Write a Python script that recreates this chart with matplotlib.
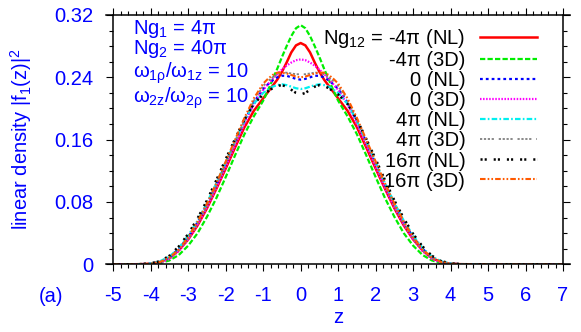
import matplotlib
matplotlib.use("Agg")
import matplotlib.pyplot as plt
from matplotlib.ticker import MultipleLocator

plt.rcParams['font.family'] = ['Liberation Sans', 'DejaVu Sans']
plt.rcParams['mathtext.fontset'] = 'custom'
plt.rcParams['mathtext.rm'] = 'Liberation Sans'
plt.rcParams['mathtext.it'] = 'Liberation Sans'
plt.rcParams['mathtext.sf'] = 'Liberation Sans'
plt.rcParams['axes.unicode_minus'] = False
plt.rcParams['lines.scale_dashes'] = False

# ---------------- data ----------------
z = [-5, -4.5, -4.25, -4, -3.75, -3.5, -3.25, -3, -2.75, -2.5, -2.25, -2, -1.75, -1.5, -1.25, -1,
     -0.875, -0.75, -0.625, -0.5, -0.375, -0.25, -0.125, 0, 0.125, 0.25, 0.375, 0.5, 0.625, 0.75, 0.875,
     1, 1.25, 1.5, 1.75, 2, 2.25, 2.5, 2.75, 3, 3.25, 3.5, 3.75, 4, 4.25, 4.5, 7]

nl_m4pi = [0, 0, 0.0002, 0.0008, 0.003, 0.008, 0.018, 0.032, 0.050, 0.072, 0.097, 0.123, 0.150, 0.176, 0.197, 0.213,
           0.221, 0.229, 0.237, 0.247, 0.259, 0.272, 0.281, 0.284, 0.281, 0.272, 0.259, 0.247, 0.237, 0.229, 0.221,
           0.213, 0.197, 0.176, 0.150, 0.123, 0.097, 0.072, 0.050, 0.032, 0.018, 0.008, 0.003, 0.0008, 0.0002, 0, 0]
td_m4pi = [0, 0, 0.0001, 0.0003, 0.0015, 0.005, 0.012, 0.024, 0.040, 0.061, 0.085, 0.112, 0.140, 0.167, 0.190, 0.210,
           0.223, 0.237, 0.251, 0.266, 0.280, 0.293, 0.303, 0.307, 0.303, 0.293, 0.280, 0.266, 0.251, 0.237, 0.223,
           0.210, 0.190, 0.167, 0.140, 0.112, 0.085, 0.061, 0.040, 0.024, 0.012, 0.005, 0.0015, 0.0003, 0.0001, 0, 0]
nl_0 = [0, 0, 0.0002, 0.0008, 0.003, 0.009, 0.020, 0.035, 0.054, 0.077, 0.102, 0.129, 0.157, 0.184, 0.208, 0.225,
        0.231, 0.236, 0.240, 0.242, 0.242, 0.240, 0.238, 0.237, 0.238, 0.240, 0.242, 0.242, 0.240, 0.236, 0.231,
        0.225, 0.208, 0.184, 0.157, 0.129, 0.102, 0.077, 0.054, 0.035, 0.020, 0.009, 0.003, 0.0008, 0.0002, 0, 0]
td_0 = [0, 0, 0.0001, 0.0005, 0.002, 0.007, 0.017, 0.032, 0.051, 0.073, 0.098, 0.125, 0.153, 0.180, 0.205, 0.224,
        0.231, 0.238, 0.244, 0.250, 0.255, 0.259, 0.262, 0.263, 0.262, 0.259, 0.255, 0.250, 0.244, 0.238, 0.231,
        0.224, 0.205, 0.180, 0.153, 0.125, 0.098, 0.073, 0.051, 0.032, 0.017, 0.007, 0.002, 0.0005, 0.0001, 0, 0]
nl_4pi = [0, 0, 0.0002, 0.001, 0.004, 0.010, 0.021, 0.037, 0.056, 0.079, 0.104, 0.131, 0.158, 0.184, 0.206, 0.220,
          0.224, 0.228, 0.230, 0.231, 0.230, 0.228, 0.226, 0.225, 0.226, 0.228, 0.230, 0.231, 0.230, 0.228, 0.224,
          0.220, 0.206, 0.184, 0.158, 0.131, 0.104, 0.079, 0.056, 0.037, 0.021, 0.010, 0.004, 0.001, 0.0002, 0, 0]
td_4pi = [0, 0, 0.0001, 0.0007, 0.003, 0.008, 0.018, 0.033, 0.052, 0.075, 0.101, 0.129, 0.157, 0.185, 0.210, 0.229,
          0.235, 0.240, 0.244, 0.246, 0.246, 0.245, 0.244, 0.244, 0.244, 0.245, 0.246, 0.246, 0.244, 0.240, 0.235,
          0.229, 0.210, 0.185, 0.157, 0.129, 0.101, 0.075, 0.052, 0.033, 0.018, 0.008, 0.003, 0.0007, 0.0001, 0, 0]
nl_16pi = [0, 0, 0.0003, 0.0013, 0.004, 0.011, 0.023, 0.039, 0.059, 0.082, 0.108, 0.135, 0.161, 0.186, 0.206, 0.218,
           0.222, 0.226, 0.229, 0.230, 0.228, 0.224, 0.220, 0.218, 0.220, 0.224, 0.228, 0.230, 0.229, 0.226, 0.222,
           0.218, 0.206, 0.186, 0.161, 0.135, 0.108, 0.082, 0.059, 0.039, 0.023, 0.011, 0.004, 0.0013, 0.0003, 0, 0]
td_16pi = [0, 0, 0.0002, 0.0008, 0.003, 0.009, 0.019, 0.035, 0.055, 0.078, 0.104, 0.132, 0.160, 0.188, 0.213, 0.232,
           0.238, 0.243, 0.246, 0.246, 0.245, 0.243, 0.241, 0.240, 0.241, 0.243, 0.245, 0.246, 0.246, 0.243, 0.238,
           0.232, 0.213, 0.188, 0.160, 0.132, 0.104, 0.078, 0.055, 0.035, 0.019, 0.009, 0.003, 0.0008, 0.0002, 0, 0]

series = [nl_m4pi, td_m4pi, nl_0, td_0, nl_4pi, td_4pi, nl_16pi, td_16pi]
labels = ["Ng$_{12}$ = -4π (NL)", "-4π (3D)", "0 (NL)", "0 (3D)",
          "4π (NL)", "4π (3D)", "16π (NL)", "16π (3D)"]
colors = ["#ff0000", "#00ee00", "#0000ff", "#ff00ff", "#00f0f0", "#808080", "#000000", "#ff5a00"]
dashes = [None, (3.8, 1.6), (2.0, 2.2), (1.1, 1.1), (4.0, 1.6, 1.2, 1.6),
          (1.6, 1.2, 1.6, 1.2, 1.6, 1.2, 1.6, 3.5), (1.5, 1.5, 1.5, 5.0), (4.0, 1.5, 1.2, 1.5, 1.2, 1.5)]
widths = [1.8, 1.6, 1.6, 1.6, 1.6, 1.3, 1.8, 1.5]

xticks = [-5, -4, -3, -2, -1, 0, 1, 2, 3, 4, 5, 6, 7]
yticks = [0, 0.08, 0.16, 0.24, 0.32]
ytick_labels = ["0", "0.08", "0.16", "0.24", "0.32"]

params = ["Ng$_1$ = 4π", "Ng$_2$ = 40π", "ω$_{1ρ}$/ω$_{1z}$ = 10", "ω$_{2z}$/ω$_{2ρ}$ = 10"]

BLUE = "#0000ff"
FS = 14.5

fig = plt.figure(figsize=(5.81, 3.32), dpi=100)
ax = fig.add_axes([113.3 / 581, (332 - 264.3) / 332, 449.7 / 581, 249.3 / 332])

for s, lab, c, d, w in zip(series, labels, colors, dashes, widths):
    line, = ax.plot(z, s, color=c, lw=w, label=lab)
    if d is not None:
        line.set_dashes(d)

ax.set_xlim(-5, 7)
ax.set_ylim(0, 0.32)
ax.set_xticks(xticks)
ax.set_xticklabels([str(t) for t in xticks])
ax.set_yticks(yticks)
ax.set_yticklabels(ytick_labels)
ax.xaxis.set_minor_locator(MultipleLocator(0.2))
ax.yaxis.set_minor_locator(MultipleLocator(0.02))
ax.tick_params(which='both', direction='out', top=True, right=True, width=0.8, color='black')
ax.tick_params(which='major', length=5.2, labelsize=FS, labelcolor=BLUE)
ax.tick_params(axis='x', which='major', pad=10.5)
ax.tick_params(axis='y', which='major', pad=9.0)
ax.tick_params(which='minor', length=2.6)
for sp in ax.spines.values():
    sp.set_linewidth(1.1)
ext = 7.0 / 37.5
ax.spines['top'].set_bounds(-5 - ext, 7 + ext)
ax.spines['bottom'].set_bounds(-5 - ext, 7 + ext)

ax.set_xlabel("z", fontsize=FS, color=BLUE, labelpad=2)
ax.set_ylabel("linear density |f$_1$(z)|$^2$", fontsize=FS, color=BLUE)
ax.yaxis.set_label_coords(-0.205, 0.5)
ax.yaxis.label.set_va('center')

ybase = [0.923, 0.843, 0.747, 0.650]
for t, yb in zip(params, ybase):
    ax.text(0.043, yb, t, transform=ax.transAxes, fontsize=FS, color=BLUE, va='baseline', ha='left')

leg = ax.legend(loc='upper right', bbox_to_anchor=(0.943, 0.95), frameon=False, markerfirst=False,
                fontsize=FS, handlelength=2.83, handletextpad=0.75, labelspacing=0.05,
                borderpad=0, borderaxespad=0)

fig.text(50.5 / 581, 1 - 297 / 332, "(a)", fontsize=FS, color=BLUE, ha='center', va='center')

fig.savefig("out.png", dpi=100)
